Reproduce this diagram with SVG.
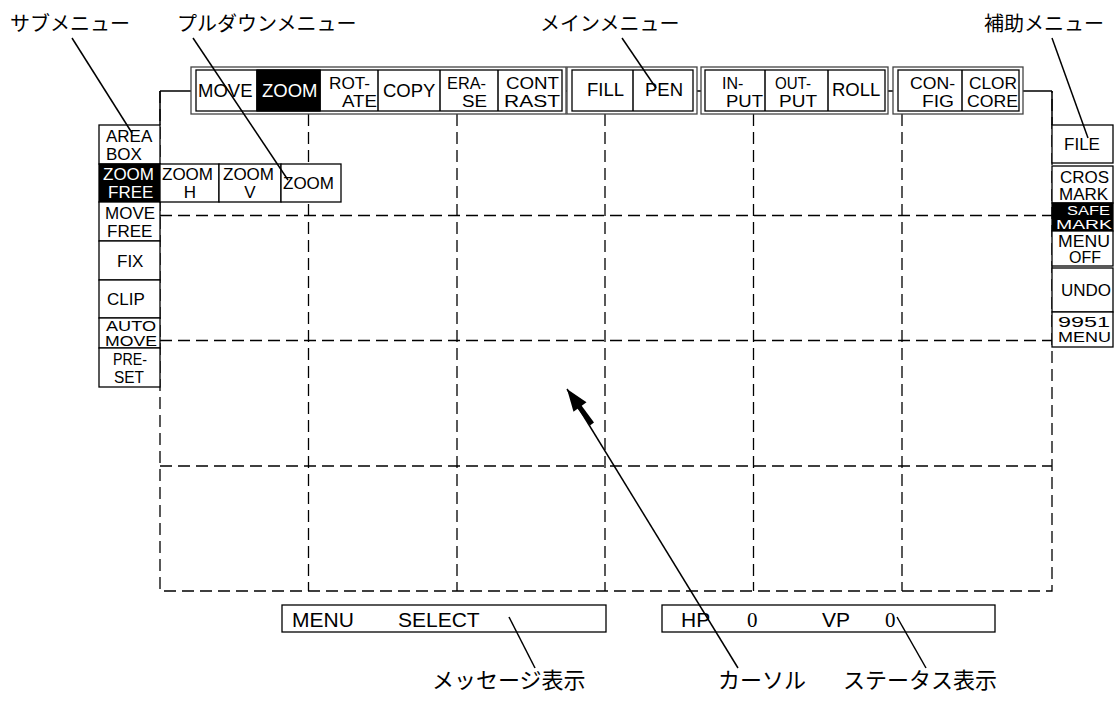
<svg xmlns="http://www.w3.org/2000/svg" width="1116" height="701" viewBox="0 0 1116 701">
<style>
.bg{fill:#fff}
.grid{stroke:#000;stroke-width:1.3;stroke-dasharray:12 6;fill:none}
.ln{stroke:#000;stroke-width:1.5;fill:none}
.frame{fill:#fff;stroke:#444;stroke-width:1.3}
.box{fill:#fff;stroke:#000;stroke-width:1.3}
.blk{fill:#000;stroke:#000;stroke-width:1.3}
.t{font-family:"Liberation Sans",Arial,sans-serif;font-size:17px;fill:#000}
.d{font-family:"Liberation Sans",Arial,sans-serif;font-size:16px;fill:#000}
.n{font-family:"Liberation Sans",Arial,sans-serif;font-size:14px;fill:#000}
.k{font-family:"Liberation Sans",Arial,sans-serif;font-size:12.5px;fill:#000}
.m{font-family:"Liberation Sans",Arial,sans-serif;font-size:18.5px;fill:#000}
.b{font-family:"Liberation Sans",Arial,sans-serif;font-size:21px;fill:#000}
.w{fill:#fff}
.s{font-family:"Liberation Serif","Times New Roman",serif}
.jp{font-family:"Noto Sans CJK JP","Noto Sans",sans-serif;font-size:20px;fill:#000}
.jpb{font-family:"Noto Sans CJK JP","Noto Sans",sans-serif;font-size:22px;fill:#000}
</style>
<rect class="bg" x="0" y="0" width="1116" height="701"/>
<g id="grid">
<path class="grid" d="M160 91V591H1052V91M308.5 114V591M457 114V591M605 114V591M753.5 114V591M902 114V591M160 215.5H1052M160 340.5H1052M160 466H1052"/>
</g>
<g id="bus">
<path class="ln" d="M160 91H1052M160 91V125M1052 91V125"/>
</g>
<g id="main-menu">
<g id="group-edit">
<rect class="frame" x="191" y="67" width="375" height="47"/>
<rect class="box" x="196" y="70" width="366" height="41"/>
<rect class="blk" x="257" y="70" width="63" height="41"/>
<path class="ln" d="M257 70V111M320 70V111M378 70V111M440 70V111M498 70V111"/>
<text class="m" x="198" y="97">MOVE</text>
<text class="m w" x="262" y="97">ZOOM</text>
<text class="d" x="329" y="89" textLength="41" lengthAdjust="spacingAndGlyphs">ROT-</text>
<text class="d" x="342" y="107" textLength="35" lengthAdjust="spacingAndGlyphs">ATE</text>
<text class="m" x="383" y="97">COPY</text>
<text class="d" x="447" y="89" textLength="39" lengthAdjust="spacingAndGlyphs">ERA-</text>
<text class="d" x="462" y="107" textLength="25" lengthAdjust="spacingAndGlyphs">SE</text>
<text class="d" x="506" y="89" textLength="53" lengthAdjust="spacingAndGlyphs">CONT</text>
<text class="d" x="504" y="107" textLength="56" lengthAdjust="spacingAndGlyphs">RAST</text>
</g>
<g id="group-paint">
<rect class="frame" x="567" y="67" width="130" height="47"/>
<rect class="box" x="572" y="70" width="121" height="41"/>
<path class="ln" d="M633 70V111"/>
<text class="m" x="587" y="96">FILL</text>
<text class="m" x="645" y="96">PEN</text>
</g>
<g id="group-io">
<rect class="frame" x="701" y="67" width="187" height="47"/>
<rect class="box" x="705" y="70" width="180" height="41"/>
<path class="ln" d="M765 70V111M828 70V111"/>
<text class="d" x="722" y="89">IN-</text>
<text class="d" x="726" y="107" textLength="37" lengthAdjust="spacingAndGlyphs">PUT</text>
<text class="d" x="775" y="89" textLength="36" lengthAdjust="spacingAndGlyphs">OUT-</text>
<text class="d" x="779" y="107" textLength="38" lengthAdjust="spacingAndGlyphs">PUT</text>
<text class="m" x="832" y="96">ROLL</text>
</g>
<g id="group-config">
<rect class="frame" x="893" y="67" width="130" height="47"/>
<rect class="box" x="898" y="70" width="121" height="41"/>
<path class="ln" d="M962 70V111"/>
<text class="d" x="910" y="89" textLength="45" lengthAdjust="spacingAndGlyphs">CON-</text>
<text class="d" x="922" y="107" textLength="32" lengthAdjust="spacingAndGlyphs">FIG</text>
<text class="d" x="969" y="89" textLength="48" lengthAdjust="spacingAndGlyphs">CLOR</text>
<text class="d" x="967" y="107" textLength="51" lengthAdjust="spacingAndGlyphs">CORE</text>
</g>
</g>
<g id="sub-menu">
<rect id="area-box" class="box" x="99" y="125" width="61" height="39"/>
<text class="t" x="106" y="142">AREA</text>
<text class="t" x="106" y="160">BOX</text>
<rect id="zoom-free" class="blk" x="99" y="164" width="61" height="38"/>
<text class="t w" x="103" y="180">ZOOM</text>
<text class="t w" x="108" y="198">FREE</text>
<rect id="move-free" class="box" x="99" y="202" width="61" height="39"/>
<text class="t" x="105" y="219">MOVE</text>
<text class="t" x="107" y="237">FREE</text>
<rect id="fix" class="box" x="99" y="241" width="61" height="39"/>
<text class="t" x="117" y="267">FIX</text>
<rect id="clip" class="box" x="99" y="280" width="61" height="38"/>
<text class="t" x="107" y="305">CLIP</text>
<rect id="auto-move" class="box" x="99" y="318" width="61" height="30"/>
<text class="n" x="106" y="331" textLength="50" lengthAdjust="spacingAndGlyphs">AUTO</text>
<text class="n" x="105" y="346" textLength="52" lengthAdjust="spacingAndGlyphs">MOVE</text>
<rect id="pre-set" class="box" x="99" y="348" width="61" height="39"/>
<text class="d" x="113" y="365" textLength="34" lengthAdjust="spacingAndGlyphs">PRE-</text>
<text class="d" x="114" y="383" textLength="30" lengthAdjust="spacingAndGlyphs">SET</text>
</g>
<g id="pulldown-menu">
<rect id="zoom-h" class="box" x="160" y="164" width="59" height="38"/>
<text class="t" x="162" y="180">ZOOM</text>
<text class="t" x="190" y="198" text-anchor="middle">H</text>
<rect id="zoom-v" class="box" x="219" y="164" width="62" height="38"/>
<text class="t" x="223" y="180">ZOOM</text>
<text class="t" x="250" y="198" text-anchor="middle">V</text>
<rect id="zoom" class="box" x="281" y="164" width="60" height="38"/>
<text class="t" x="283" y="189">ZOOM</text>
</g>
<g id="aux-menu">
<rect id="file" class="box" x="1052" y="125" width="61" height="38"/>
<text class="t" x="1082" y="150" text-anchor="middle">FILE</text>
<rect id="cros-mark" class="box" x="1052" y="166" width="61" height="37"/>
<text class="t" x="1060" y="183">CROS</text>
<text class="t" x="1059" y="200">MARK</text>
<rect id="safe-mark" class="blk" x="1052" y="203" width="61" height="28"/>
<text class="k w" x="1067" y="215" textLength="43" lengthAdjust="spacingAndGlyphs">SAFE</text>
<text class="k w" x="1056" y="229" textLength="56" lengthAdjust="spacingAndGlyphs">MARK</text>
<rect id="menu-off" class="box" x="1052" y="231" width="61" height="35"/>
<text class="d" x="1058" y="247" textLength="52" lengthAdjust="spacingAndGlyphs">MENU</text>
<text class="d" x="1069" y="263">OFF</text>
<rect id="undo" class="box" x="1052" y="268" width="61" height="44"/>
<text class="t" x="1061" y="296">UNDO</text>
<rect id="menu-9951" class="box" x="1052" y="312" width="61" height="35"/>
<text class="n" x="1058" y="327" textLength="52" lengthAdjust="spacingAndGlyphs">9951</text>
<text class="n" x="1058" y="342" textLength="53" lengthAdjust="spacingAndGlyphs">MENU</text>
</g>
<g id="message-box">
<rect class="box" x="282" y="605" width="324" height="27"/>
<text class="b" x="292" y="627">MENU</text>
<text class="b" x="398" y="627">SELECT</text>
</g>
<g id="status-box">
<rect class="box" x="662" y="605" width="333" height="27"/>
<text class="b" x="681" y="627">HP</text>
<text class="b s" x="747" y="627">0</text>
<text class="b" x="822" y="627">VP</text>
<text class="b s" x="885" y="627">0</text>
</g>
<g id="cursor">
<polygon points="567,389 586.5,402.3 573.5,411.7" fill="#000"/>
<path d="M578 405L592 424" stroke="#000" stroke-width="5"/>
</g>
<g id="labels">
<text class="jp" x="10" y="31">サブメニュー</text>
<text class="jp" x="177" y="31">プルダウンメニュー</text>
<text class="jp" x="540" y="31">メインメニュー</text>
<text class="jp" x="984" y="31">補助メニュー</text>
<text class="jpb" x="432" y="688">メッセージ表示</text>
<text class="jpb" x="718" y="688">カーソル</text>
<text class="jpb" x="843" y="688">ステータス表示</text>
</g>
<g id="connectors">
<path class="ln" d="M72 38L132 133"/>
<path class="ln" d="M193 38L288 180"/>
<path class="ln" d="M622 38L656 88"/>
<path class="ln" d="M1052 38L1088 138"/>
<path class="ln" d="M509 617L535 668"/>
<path class="ln" d="M567 389L738 668"/>
<path class="ln" d="M897 617L926 668"/>
</g>
</svg>
